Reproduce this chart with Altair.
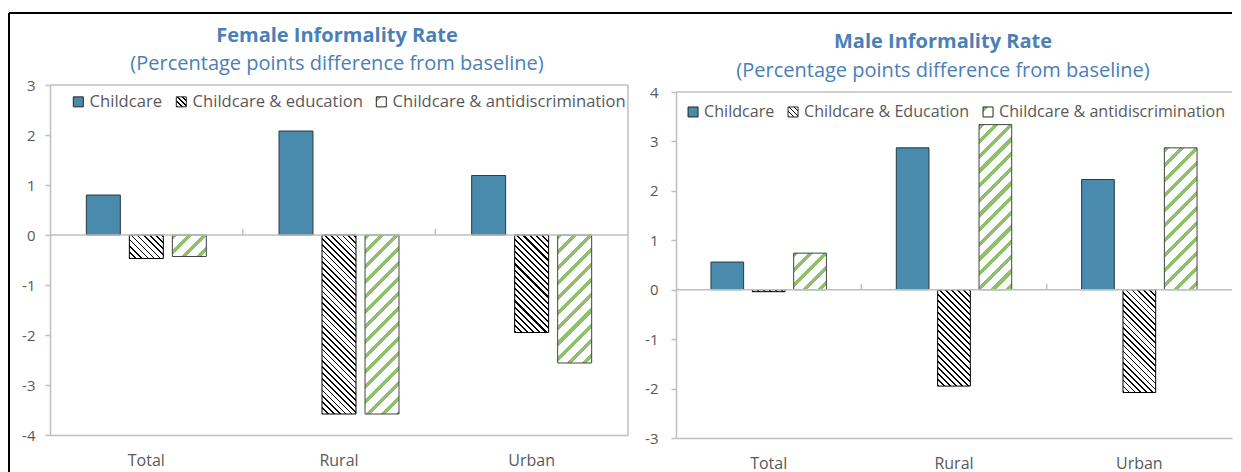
import json
import altair as alt

# ---------------- data ----------------
categories = ["Total", "Rural", "Urban"]
female_series = ["Childcare", "Childcare & education", "Childcare & antidiscrimination"]
male_series = ["Childcare", "Childcare & Education", "Childcare & antidiscrimination"]

female_childcare = [0.80, 2.08, 1.19]
female_education = [-0.47, -3.58, -1.95]
female_antidiscrimination = [-0.43, -3.58, -2.56]

male_childcare = [0.56, 2.87, 2.23]
male_education = [-0.04, -1.95, -2.08]
male_antidiscrimination = [0.74, 3.34, 2.87]

female_y_ticks = [-4, -3, -2, -1, 0, 1, 2, 3]
male_y_ticks = [-3, -2, -1, 0, 1, 2, 3, 4]

female_title = "Female Informality Rate"
male_title = "Male Informality Rate"
subtitle_text = "(Percentage points difference from baseline)"

# ---------------- style ----------------
FONT = "Open Sans"
BLUE = "#4a8aad"
GREEN = "#8fc06e"
TITLE_BLUE = "#4a80b8"
TEXT_GRAY = "#595959"
AXIS_GRAY = "#bfbfbf"
STROKES = ["#2e3b44", "#000000", "#444444"]
P_IN = 0.21
P_OUT = 0.845
TEX = 256  # gradient stops are snapped to 1/256 steps to avoid banding


def stripes(w, h, period, frac, fg, bg, direction):
    """Linear gradient with hard stops that draws 45-degree hatching on a w x h box."""
    px_per_tex = (w + h) / TEX
    k = max(2, int(round(period / px_per_tex)))
    m = max(1, int(round(frac * k)))
    stops = []
    start = 0
    while start < TEX:
        a = start / TEX
        b = min(start + m, TEX) / TEX
        c = min(start + k, TEX) / TEX
        stops += [
            {"offset": a, "color": fg},
            {"offset": b, "color": fg},
            {"offset": b, "color": bg},
            {"offset": c, "color": bg},
        ]
        start += k
    kk = (w + h) / (w * w + h * h)
    if direction == "up":  # "/" lines
        x1, y1, x2, y2 = 0, 0, kk * w, kk * h
    else:  # "\" lines
        x1, y1, x2, y2 = 0, 1, kk * w, 1 - kk * h
    return {"gradient": "linear", "x1": round(x1, 6), "y1": round(y1, 6),
            "x2": round(x2, 6), "y2": round(y2, 6), "stops": stops}


legend_edu = stripes(10, 10, 5, 0.35, "#000000", "#ffffff", "down")
legend_anti = {"gradient": "linear", "x1": 0, "y1": 0, "x2": 1, "y2": 1,
               "stops": [{"offset": 0, "color": GREEN}, {"offset": 0.25, "color": GREEN},
                         {"offset": 0.25, "color": "#ffffff"}, {"offset": 1, "color": "#ffffff"}]}


def panel(title, series, values, ticks, W, H, top_gap, title_x, title_y, sub_y,
          legend_x, legend_y, legend_size, y_label_pad, right_frame, border):
    plot_h = H - top_gap
    px_unit = plot_h / (ticks[-1] - ticks[0])
    step = (W / len(categories)) / (len(series) - P_IN + 2 * P_OUT)
    bar_w = step * (1 - P_IN)

    records = []
    for si, (s, vals) in enumerate(zip(series, values)):
        for c, v in zip(categories, vals):
            h = max(abs(v) * px_unit, 0.5)
            if si == 0:
                paint = BLUE
            elif si == 1:
                paint = stripes(bar_w, h, 6, 0.3, "#000000", "#ffffff", "down")
            else:
                paint = stripes(bar_w, h, 15, 0.35, GREEN, "#ffffff", "up")
            records.append({"category": c, "series": s, "value": v, "paint": paint})
    data = alt.Data(values=records)
    one = alt.Data(values=[{}])

    x_scale = alt.Scale(domain=categories, paddingInner=0, paddingOuter=0)
    y_scale = alt.Scale(domain=[ticks[0], ticks[-1]], range=[H, top_gap], nice=False, zero=False)
    x_axis = alt.Axis(title=None, ticks=False, tickSize=0, domainColor=AXIS_GRAY, domainWidth=1.5,
                      labelAngle=0, labelPadding=17, labelColor=TEXT_GRAY, labelFont=FONT,
                      labelFontSize=16, grid=False)
    y_axis = alt.Axis(title=None, values=ticks, domainColor=AXIS_GRAY, domainWidth=1.5,
                      tickColor=AXIS_GRAY, tickSize=5, tickWidth=1.5, labelPadding=y_label_pad,
                      labelColor=TEXT_GRAY, labelFont=FONT, labelFontSize=15, grid=False,
                      labelFlush=False, labelOverlap=False, labelExpr="datum.value + ''")
    xo = alt.XOffset("series:N", scale=alt.Scale(domain=series, paddingInner=P_IN, paddingOuter=P_OUT))

    legend_bars = alt.Chart(data).mark_bar().encode(
        x=alt.X("category:N", scale=x_scale, axis=x_axis, sort=categories),
        xOffset=xo,
        y=alt.Y("value:Q", scale=y_scale, axis=y_axis, stack=None),
        fill=alt.Fill("series:N", scale=alt.Scale(
            domain=series,
            range=[BLUE, alt.ExprRef(expr=json.dumps(legend_edu)), alt.ExprRef(expr=json.dumps(legend_anti))]),
            legend=alt.Legend(orient="none", legendX=legend_x, legendY=legend_y, direction="horizontal",
                              title=None, symbolType="square", symbolSize=100,
                              symbolStrokeColor="#262626", symbolStrokeWidth=1,
                              labelFont=FONT, labelFontSize=legend_size, labelColor=TEXT_GRAY,
                              labelOffset=3, columnPadding=10, padding=0, labelLimit=400)),
    )

    pattern_bars = alt.Chart(data).mark_bar(strokeWidth=1).encode(
        x=alt.X("category:N", scale=x_scale, axis=x_axis, sort=categories),
        xOffset=xo,
        y=alt.Y("value:Q", scale=y_scale, axis=y_axis, stack=None),
        fill=alt.Fill("paint:N", scale=None),
        stroke=alt.Stroke("series:N", scale=alt.Scale(domain=series, range=STROKES), legend=None),
    )

    zero_line = alt.Chart(one).mark_rule(color=AXIS_GRAY, strokeWidth=1.5).encode(
        y=alt.YDatum(0, scale=y_scale, axis=y_axis))

    cat_ticks = alt.Chart(alt.Data(values=[{"category": c} for c in categories[1:]])).mark_rule(
        color=AXIS_GRAY, strokeWidth=1.5, y2Offset=-6).encode(
        x=alt.X("category:N", scale=x_scale, axis=x_axis, bandPosition=0),
        y=alt.YDatum(0, scale=y_scale, axis=y_axis),
        y2=alt.Y2Datum(0))

    frame_top = alt.Chart(one).mark_rule(color=AXIS_GRAY, strokeWidth=1.5).encode(
        y=alt.YDatum(ticks[-1], scale=y_scale, axis=y_axis))

    title_mark = alt.Chart(one).mark_text(
        text=title, font=FONT, fontSize=20, fontWeight="bold", color=TITLE_BLUE,
        align="center", baseline="middle").encode(x=alt.value(title_x), y=alt.value(title_y))
    subtitle_mark = alt.Chart(one).mark_text(
        text=subtitle_text, font=FONT, fontSize=20, color=TITLE_BLUE,
        align="center", baseline="middle").encode(x=alt.value(title_x), y=alt.value(sub_y))

    layers = [legend_bars, pattern_bars, zero_line, cat_ticks, frame_top, title_mark, subtitle_mark]
    if right_frame:
        layers.append(alt.Chart(one).mark_rule(color=AXIS_GRAY, strokeWidth=1.5).encode(
            x=alt.value(W), y=alt.YDatum(ticks[-1], scale=y_scale, axis=y_axis),
            y2=alt.Y2Datum(ticks[0])))
    if border:
        layers.append(alt.Chart(one).mark_rule(color="#000000", strokeWidth=2).encode(
            x=alt.value(-41), x2=alt.value(1182), y=alt.value(-72)))
        layers.append(alt.Chart(one).mark_rule(color="#000000", strokeWidth=2).encode(
            x=alt.value(-41), y=alt.value(-72), y2=alt.value(387)))

    return alt.layer(*layers).properties(width=W, height=H).resolve_scale(
        fill="independent", stroke="independent")


left = panel(female_title, female_series,
             [female_childcare, female_education, female_antidiscrimination],
             female_y_ticks, W=578, H=350, top_gap=0, title_x=287, title_y=-49, sub_y=-21,
             legend_x=20, legend_y=8.5, legend_size=16.6, y_label_pad=10, right_frame=True,
             border=True)

right = panel(male_title, male_series,
              [male_childcare, male_education, male_antidiscrimination],
              male_y_ticks, W=556, H=353, top_gap=7, title_x=267, title_y=-43, sub_y=-14,
              legend_x=9, legend_y=18.5, legend_size=16.1, y_label_pad=13, right_frame=False,
              border=False)

chart = alt.HConcatChart(hconcat=[left, right], spacing=48, bounds="flush").properties(
    padding={"left": 0, "top": 4, "right": 0, "bottom": 0}
).resolve_scale(fill="independent", stroke="independent", x="independent", y="independent",
                xOffset="independent"
).configure_view(stroke=None)

chart.save("out.html", embed_options={"renderer": "svg", "actions": False})
